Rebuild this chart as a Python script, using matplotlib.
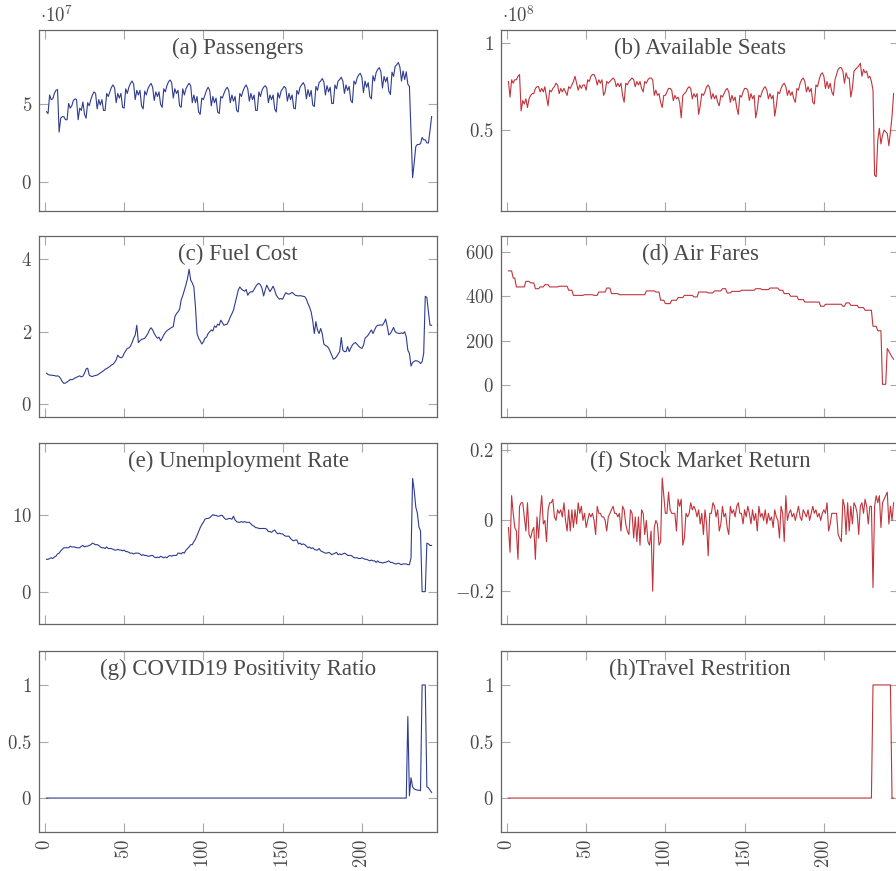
import numpy as np
import matplotlib
matplotlib.use("Agg")
import matplotlib.pyplot as plt
from matplotlib.ticker import FuncFormatter

plt.rcParams['mathtext.fontset'] = 'cm'
plt.rcParams['font.family'] = ['Liberation Serif', 'DejaVu Serif']

# monthly series, index 1 = Jan 2001
passengers_m = [
    45.2, 44.0, 56.0, 53.0, 53.5, 57.0, 59.0, 59.5, 32.0, 41.0, 42.0, 42.0,
    40.0, 40.0, 50.5, 47.5, 49.0, 52.5, 53.5, 53.0, 40.0, 47.5, 46.0, 51.5,
    43.5, 41.0, 51.0, 49.0, 53.0, 56.0, 58.0, 57.0, 47.0, 53.0, 49.5, 53.0,
    46.0, 46.0, 57.0, 55.0, 58.0, 61.0, 62.5, 60.5, 51.0, 57.0, 54.0, 57.0,
    48.0, 47.5, 60.0, 57.0, 61.0, 63.5, 65.0, 63.0, 53.0, 59.0, 56.0, 59.0,
    49.0, 47.0, 58.5, 56.0, 60.0, 62.0, 63.5, 61.0, 52.5, 58.0, 55.0, 58.0,
    50.0, 48.0, 60.0, 58.0, 62.0, 64.5, 65.7, 64.0, 54.0, 60.0, 57.0, 59.0,
    49.0, 48.0, 60.0, 56.0, 60.0, 62.0, 63.6, 62.0, 51.0, 56.0, 51.0, 55.0,
    45.0, 43.5, 54.0, 53.0, 56.0, 59.0, 61.0, 59.0, 49.0, 55.0, 51.0, 54.0,
    45.0, 44.0, 55.0, 54.0, 57.0, 59.5, 61.0, 59.0, 51.0, 56.0, 52.0, 55.0,
    46.0, 45.0, 57.0, 55.0, 58.5, 61.0, 62.5, 60.0, 52.0, 57.0, 53.0, 56.0,
    46.0, 46.0, 58.0, 55.0, 59.0, 61.0, 62.0, 60.5, 51.0, 56.0, 53.0, 56.0,
    47.0, 45.0, 57.5, 54.0, 58.5, 60.0, 61.5, 60.5, 52.0, 57.0, 53.0, 56.0,
    47.5, 47.0, 59.0, 56.5, 61.0, 62.5, 64.0, 62.0, 53.5, 59.5, 55.0, 59.0,
    49.5, 48.5, 61.5, 59.0, 64.0, 65.0, 66.6, 64.5, 56.0, 62.0, 58.0, 61.0,
    50.5, 50.5, 62.5, 60.0, 65.0, 66.0, 67.5, 65.0, 57.0, 62.5, 59.0, 61.5,
    52.5, 51.0, 65.0, 63.0, 67.0, 69.0, 70.0, 67.5, 57.5, 65.0, 61.0, 64.0,
    55.0, 53.5, 68.5, 65.0, 70.5, 72.5, 73.7, 71.0, 60.5, 68.0, 64.5, 67.5,
    58.5, 56.3, 70.8, 68.0, 74.5, 75.5, 77.0, 74.0, 65.0, 71.5, 66.0, 71.0,
    63.0, 61.5, 32.0, 2.5, 12.0, 22.6, 24.0, 24.0, 24.5, 28.5, 27.0, 27.0,
    25.0, 25.0, 33.0, 42.0,
]

seats_m = [
    78, 69, 79, 77, 79, 79, 81, 82, 61, 67, 65, 68,
    63, 68, 70, 71, 71, 74, 75, 75, 72, 74, 72, 75,
    69, 64, 73, 72, 74, 75, 77, 76, 71, 74, 72, 74,
    72, 70, 75, 74, 76, 78, 81, 77, 73, 76, 74, 76,
    76, 73, 79, 78, 81, 82, 82, 80, 76, 79, 77, 79,
    70, 72, 78, 77, 78, 79, 80, 79, 75, 77, 75, 77,
    70, 66, 77, 76, 78, 79, 80, 79, 75, 78, 76, 78,
    74, 72, 78, 77, 79, 80, 80, 79, 70, 73, 70, 71,
    66, 63, 70, 70, 72, 74, 74, 73, 67, 70, 68, 69,
    66, 57, 70, 71, 72, 74, 75, 74, 68, 71, 69, 71,
    59, 64, 71, 70, 72, 75, 76, 74, 68, 71, 68, 70,
    66, 64, 70, 69, 71, 73, 74, 72, 66, 70, 67, 69,
    63, 59, 70, 69, 72, 74, 74, 73, 67, 71, 68, 70,
    57, 62, 70, 69, 72, 74, 75, 73, 68, 71, 68, 70,
    58, 64, 72, 71, 74, 76, 77, 75, 70, 73, 70, 72,
    68, 66, 74, 73, 77, 79, 80, 78, 72, 75, 72, 74,
    66, 65, 76, 75, 79, 82, 83, 81, 74, 78, 74, 77,
    72, 70, 79, 82, 85, 86, 86, 84, 77, 83, 80, 80,
    69, 74, 84, 85, 86, 87, 88.5, 81, 85, 83, 84, 80,
    81, 78, 73, 24, 23, 44, 51, 42, 47, 50, 49, 48,
    41, 49, 58, 71,
]

fuel_cost = [
    0.85, 0.82, 0.80, 0.80, 0.79, 0.79, 0.77, 0.78, 0.76, 0.70, 0.62, 0.57,
    0.58, 0.61, 0.64, 0.68, 0.67, 0.69, 0.72, 0.74, 0.76, 0.78, 0.75, 0.77,
    0.85, 0.97, 0.99, 0.80, 0.77, 0.76, 0.78, 0.79, 0.80, 0.83, 0.86, 0.89,
    0.92, 0.96, 0.98, 1.01, 1.04, 1.08, 1.10, 1.15, 1.22, 1.35, 1.30, 1.28,
    1.30, 1.40, 1.47, 1.54, 1.55, 1.60, 1.70, 1.82, 1.91, 2.18, 1.70, 1.75,
    1.79, 1.80, 1.82, 1.88, 1.95, 2.05, 2.11, 2.05, 1.95, 1.88, 1.82, 1.85,
    1.75, 1.82, 1.91, 1.98, 2.03, 2.06, 2.09, 2.12, 2.14, 2.41, 2.50, 2.55,
    2.62, 2.88, 3.00, 3.15, 3.30, 3.47, 3.73, 3.43, 3.35, 3.24, 2.69, 1.95,
    1.82, 1.75, 1.66, 1.72, 1.82, 1.85, 1.95, 2.00, 2.05, 2.02, 2.16, 2.12,
    2.21, 2.18, 2.32, 2.25, 2.18, 2.20, 2.21, 2.30, 2.41, 2.50, 2.60, 2.78,
    2.97, 3.15, 3.24, 3.18, 3.15, 3.12, 3.17, 3.01, 3.08, 3.11, 3.10, 3.17,
    3.25, 3.31, 3.34, 3.30, 3.20, 2.99, 3.15, 3.29, 3.20, 3.11, 3.18, 3.26,
    3.15, 3.01, 2.95, 2.90, 2.92, 2.90, 3.00, 3.08, 3.05, 3.04, 3.06, 3.09,
    3.05, 3.01, 3.00, 2.99, 3.00, 2.99, 2.98, 2.97, 2.90, 2.78, 2.68, 2.55,
    2.30, 1.95, 2.28, 2.05, 1.95, 2.09, 1.95, 1.66, 1.62, 1.60, 1.55, 1.45,
    1.35, 1.24, 1.26, 1.31, 1.38, 1.45, 1.84, 1.49, 1.45, 1.45, 1.59, 1.45,
    1.55, 1.63, 1.68, 1.70, 1.65, 1.60, 1.56, 1.54, 1.62, 1.82, 1.86, 1.91,
    1.98, 2.05, 1.95, 2.05, 2.14, 2.18, 2.18, 2.19, 2.18, 2.25, 2.35, 2.15,
    1.91, 1.95, 2.03, 2.12, 2.00, 1.97, 1.96, 1.95, 1.97, 1.95, 2.00, 1.86,
    1.49, 1.40, 1.05, 1.15, 1.18, 1.20, 1.19, 1.17, 1.12, 1.17, 1.40, 2.98,
    2.95, 2.55, 2.18, 2.18,
]

air_fares = [
    515, 515, 515, 483, 483, 443, 443, 443, 443, 443, 443, 468,
    468, 468, 461, 461, 461, 435, 435, 435, 443, 443, 443, 453,
    453, 453, 443, 443, 443, 443, 443, 443, 446, 446, 446, 446,
    446, 446, 428, 428, 428, 405, 405, 405, 405, 405, 405, 405,
    408, 408, 408, 408, 408, 408, 405, 405, 405, 420, 420, 420,
    420, 420, 438, 438, 438, 413, 413, 413, 413, 413, 408, 408,
    408, 408, 408, 408, 408, 408, 408, 408, 408, 408, 408, 408,
    408, 408, 408, 425, 425, 425, 425, 425, 425, 420, 420, 420,
    383, 383, 383, 368, 368, 368, 368, 383, 383, 383, 383, 395,
    395, 395, 395, 405, 405, 405, 405, 405, 405, 398, 398, 398,
    420, 420, 420, 420, 420, 420, 416, 416, 416, 416, 425, 425,
    425, 425, 425, 435, 435, 435, 416, 416, 416, 423, 423, 423,
    423, 423, 423, 428, 428, 428, 428, 428, 428, 428, 428, 428,
    435, 435, 435, 435, 431, 431, 431, 431, 431, 438, 438, 438,
    438, 438, 438, 428, 428, 428, 413, 413, 413, 413, 401, 401,
    401, 401, 401, 386, 386, 386, 386, 375, 375, 375, 375, 375,
    375, 375, 375, 375, 375, 356, 356, 356, 365, 365, 365, 365,
    365, 365, 365, 365, 365, 365, 365, 356, 356, 371, 371, 371,
    360, 360, 360, 360, 360, 350, 350, 350, 350, 338, 338, 338,
    338, 338, 266, 266, 266, 246, 246, 246, 5, 5, 5, 166,
    153, 140, 128, 118,
]

unemployment = [
    4.2, 4.2, 4.3, 4.4, 4.3, 4.5, 4.6, 4.9, 5.0, 5.3, 5.5, 5.7,
    5.7, 5.7, 5.7, 5.9, 5.8, 5.8, 5.8, 5.7, 5.7, 5.7, 5.9, 6.0,
    5.8, 5.9, 5.9, 6.0, 6.1, 6.3, 6.2, 6.1, 6.1, 6.0, 5.8, 5.7,
    5.7, 5.6, 5.8, 5.6, 5.6, 5.6, 5.5, 5.4, 5.4, 5.5, 5.4, 5.4,
    5.3, 5.4, 5.2, 5.2, 5.1, 5.0, 5.0, 4.9, 5.0, 5.0, 5.0, 4.9,
    4.7, 4.8, 4.7, 4.7, 4.6, 4.6, 4.7, 4.7, 4.5, 4.4, 4.5, 4.4,
    4.6, 4.5, 4.4, 4.5, 4.4, 4.6, 4.7, 4.6, 4.7, 4.7, 4.7, 5.0,
    5.0, 4.9, 5.1, 5.0, 5.4, 5.6, 5.8, 6.1, 6.1, 6.5, 6.8, 7.3,
    7.8, 8.3, 8.7, 9.0, 9.4, 9.5, 9.5, 9.6, 9.8, 10.0, 9.9, 9.9,
    9.8, 9.8, 9.9, 9.9, 9.6, 9.4, 9.4, 9.5, 9.5, 9.4, 9.8, 9.3,
    9.1, 9.0, 9.0, 9.1, 9.0, 9.1, 9.0, 9.0, 9.0, 8.8, 8.6, 8.5,
    8.3, 8.3, 8.2, 8.2, 8.2, 8.2, 8.2, 8.1, 7.8, 7.8, 7.7, 7.9,
    8.0, 7.7, 7.5, 7.6, 7.5, 7.5, 7.3, 7.2, 7.2, 7.2, 6.9, 6.7,
    6.6, 6.7, 6.7, 6.2, 6.3, 6.1, 6.2, 6.1, 5.9, 5.7, 5.8, 5.6,
    5.7, 5.5, 5.4, 5.4, 5.6, 5.3, 5.2, 5.1, 5.0, 5.0, 5.1, 5.0,
    4.8, 4.9, 5.0, 5.1, 4.8, 4.9, 4.8, 4.9, 5.0, 4.9, 4.7, 4.7,
    4.7, 4.6, 4.4, 4.4, 4.4, 4.3, 4.3, 4.4, 4.3, 4.2, 4.2, 4.1,
    4.0, 4.1, 4.0, 4.0, 3.8, 4.0, 3.8, 3.8, 3.7, 3.8, 3.8, 3.9,
    4.0, 3.8, 3.8, 3.7, 3.6, 3.6, 3.7, 3.6, 3.5, 3.6, 3.6, 3.6,
    3.5, 3.5, 4.4, 14.7, 13.2, 11.0, 10.2, 8.4, 7.9, 0.0, 0.0, 0.0,
    6.3, 6.2, 6.0, 6.0,
]

stock_return = [
    -0.02, -0.09, 0.07, 0.02, -0.02, -0.03, -0.11, 0.04, 0.05, 0.05, 0.01, -0.03,
    0.05, -0.04, -0.05, -0.03, -0.02, -0.11, 0.01, -0.05, 0.02, 0.07, -0.01, 0.00,
    -0.06, 0.03, 0.05, 0.05, 0.06, 0.01, 0.00, 0.03, 0.02, 0.03, 0.01, 0.05,
    0.00, -0.03, 0.03, -0.03, 0.03, -0.02, 0.03, -0.01, 0.05, 0.02, 0.04, 0.00,
    0.02, -0.02, 0.00, 0.02, 0.01, 0.02, 0.00, -0.04, 0.04, 0.02, 0.02, 0.01,
    0.01, 0.00, -0.03, 0.01, 0.02, 0.03, 0.04, 0.02, 0.02, 0.01, 0.02, -0.03,
    0.04, 0.03, -0.01, -0.03, -0.04, 0.03, 0.02, -0.05, 0.01, -0.06, 0.01, -0.07,
    0.03, 0.02, -0.04, 0.00, -0.06, -0.07, -0.03, -0.20, -0.02, 0.00, -0.01, -0.07,
    -0.06, 0.12, 0.07, 0.02, 0.02, 0.08, 0.03, 0.02, 0.02, 0.02, -0.03, 0.06,
    0.04, 0.06, -0.07, -0.05, 0.02, 0.01, 0.02, 0.05, 0.03, 0.04, 0.03, 0.01,
    0.03, -0.01, 0.02, -0.04, 0.03, -0.01, -0.10, 0.02, 0.02, 0.05, 0.04, 0.01,
    0.03, -0.03, -0.01, 0.04, 0.01, 0.02, -0.02, -0.04, 0.04, 0.02, 0.03, 0.01,
    0.04, 0.05, 0.02, 0.02, -0.01, 0.03, 0.01, 0.04, 0.02, -0.01, 0.03, 0.00,
    0.02, -0.03, 0.04, 0.01, 0.02, 0.00, 0.03, -0.01, 0.02, 0.00, 0.01, -0.02,
    0.03, 0.01, 0.00, -0.05, 0.04, 0.02, -0.06, 0.07, 0.00, 0.02, 0.03, 0.01,
    0.02, 0.00, 0.02, 0.04, 0.01, 0.00, 0.03, 0.02, 0.01, 0.03, 0.00, 0.02,
    0.04, 0.02, 0.03, 0.01, 0.02, 0.00, 0.02, 0.03, 0.02, 0.05, -0.03, -0.01,
    0.02, 0.02, 0.02, 0.02, -0.04, -0.05, -0.06, 0.06, 0.04, -0.04, 0.05, -0.03,
    0.04, -0.01, 0.05, 0.04, 0.02, -0.04, 0.04, 0.05, 0.02, 0.06, 0.04, -0.01,
    0.04, 0.04, -0.19, 0.04, 0.07, 0.05, 0.07, -0.02, 0.05, 0.06, 0.07, 0.08,
    -0.01, 0.04, 0.00, 0.05,
]

covid_positivity = [0.0] * 228 + [0.72, 0.02, 0.18, 0.10, 0.08, 0.075, 0.07, 0.07,
                                  0.065, 1.0, 1.0, 1.0, 0.10, 0.09, 0.07, 0.05]
travel_restriction = [0] * 230 + [1] * 12 + [0, 0]

blue = '#2f3c8f'
red = '#c1343b'

panels = [
    ('(a) Passengers', np.array(passengers_m) * 1e6, blue, (-1.9e7, 9.8e7), [0, 5e7], 1e7, 7),
    ('(b) Available Seats', np.array(seats_m) * 1e6, red, (0.033e8, 1.077e8), [0.5e8, 1e8], 1e8, 8),
    ('(c) Fuel Cost', fuel_cost, blue, (-0.36, 4.65), [0, 2, 4], 1, None),
    ('(d) Air Fares', air_fares, red, (-142, 672), [0, 200, 400, 600], 1, None),
    ('(e) Unemployment Rate', unemployment, blue, (-4.2, 19.3), [0, 10], 1, None),
    ('(f) Stock Market Return', stock_return, red, (-0.293, 0.219), [-0.2, 0, 0.2], 1, None),
    ('(g) COVID19 Positivity Ratio', covid_positivity, blue, (-0.3, 1.3), [0, 0.5, 1], 1, None),
    ('(h)Travel Restrition', travel_restriction, red, (-0.3, 1.3), [0, 0.5, 1], 1, None),
]

W, H = 896, 871
fig = plt.figure(figsize=(W / 100, H / 100), dpi=100)

col_left = [39, 501]
row_top = [30, 236, 443, 651]
ax_w, ax_h = 398, 181

for i, (title, data, color, ylim, yticks, scale, expo) in enumerate(panels):
    r, c = divmod(i, 2)
    ax = fig.add_axes([col_left[c] / W, 1 - (row_top[r] + ax_h) / H, ax_w / W, ax_h / H])
    x = np.arange(1, len(data) + 1)
    ax.plot(x, data, color=color, lw=0.8)
    ax.set_xlim(-3.7, 247.4)
    ax.set_ylim(*ylim)
    ax.set_yticks(yticks)
    ax.set_xticks([0, 50, 100, 150, 200])
    ax.yaxis.set_major_formatter(FuncFormatter(lambda v, p, s=scale: '$%g$' % round(v / s, 3)))
    ax.xaxis.set_major_formatter(FuncFormatter(lambda v, p: '$%d$' % v))
    ax.tick_params(direction='in', top=True, right=True, length=6.5, width=0.8,
                   color='#a8a8a8', labelcolor='#4a4a4a', labelsize=13.5, pad=5)
    if r < 3:
        ax.tick_params(labelbottom=False)
    else:
        for lab in ax.get_xticklabels():
            lab.set_rotation(90)
    for sp in ax.spines.values():
        sp.set_color('#666666')
        sp.set_linewidth(0.9)
    ax.text(0.5, 0.9, title, transform=ax.transAxes, ha='center', va='center',
            fontsize=16.5, color='#4a4a4a')
    if expo:
        ax.text(0.003, 1.02, r'$\cdot10^{%d}$' % expo, transform=ax.transAxes,
                ha='left', va='bottom', fontsize=13.5, color='#4a4a4a')

fig.savefig('out.png', dpi=100)
